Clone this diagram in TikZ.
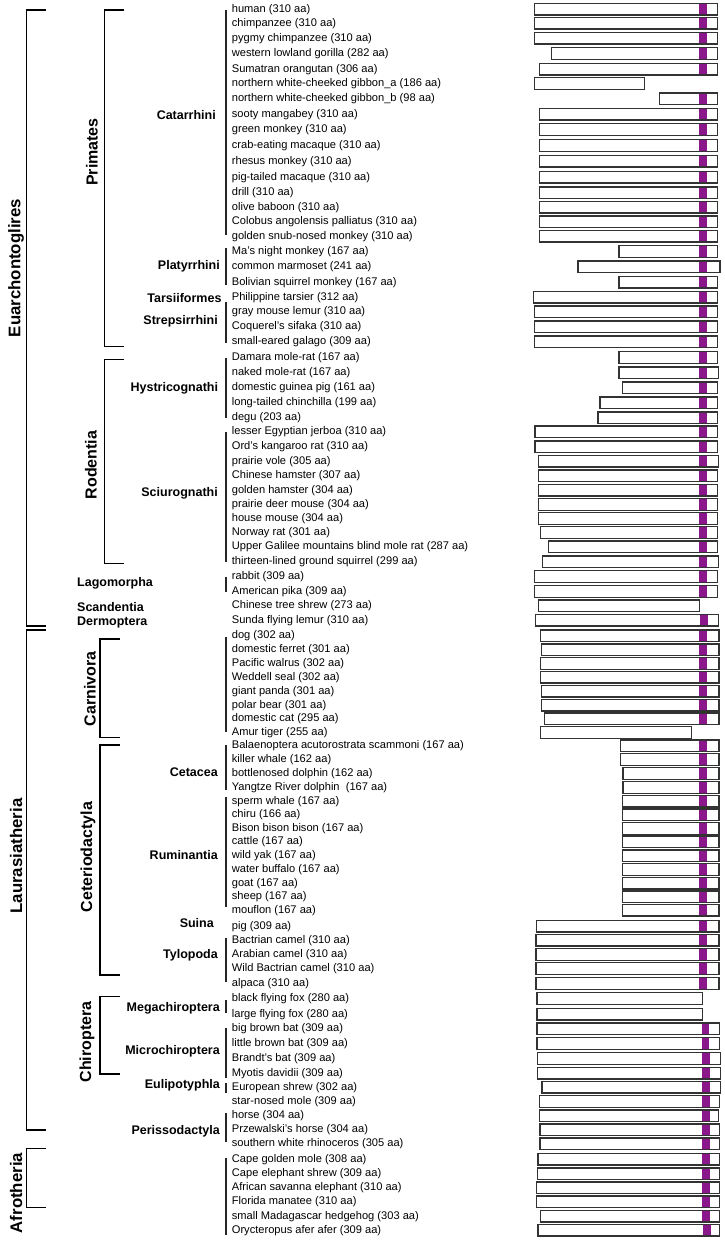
\documentclass[tikz,border=0pt]{standalone}
\usepackage{fontspec}
\setmainfont{Liberation Sans}
\usepackage{xcolor}
\definecolor{motif}{RGB}{138,24,138}
\tikzset{
  sp/.style={anchor=west, inner sep=0pt, font=\fontsize{11.1}{13}\selectfont},
  barbox/.style={draw=black!80, line width=1.1pt},
  grp/.style={draw=black!85, line width=1.2pt},
  bracket/.style={draw=black, line width=1.4pt},
  order/.style={inner sep=0pt, font=\bfseries\fontsize{12.5}{14}\selectfont},
  suborder/.style={inner sep=0pt, rotate=90, font=\bfseries\fontsize{16}{18}\selectfont},
  superorder/.style={inner sep=0pt, rotate=90, font=\bfseries\fontsize{16.8}{18}\selectfont}
}
\begin{document}
\begin{tikzpicture}[x=1pt,y=-1pt]
  \useasboundingbox (0,0) rectangle (724,1240);
  \fill[white] (0,0) rectangle (724,1240);
  % species rows: top of bar / left / right / motif / label
  \foreach \t/\l/\r/\p/\txt [count=\i] in {
    3.3/534.3/717.7/699/human (310 aa),
    17.3/534.3/717.7/699/chimpanzee (310 aa),
    32.3/534.3/717.7/699/pygmy chimpanzee (310 aa),
    47.7/551.7/717.7/699/western lowland gorilla (282 aa),
    63.3/539.3/717.7/699/Sumatran orangutan (306 aa),
    77.7/534.3/644.7/0/northern white-cheeked gibbon\_a (186 aa),
    93/659.7/717.7/699/northern white-cheeked gibbon\_b (98 aa),
    108.3/539.3/717.7/699/sooty mangabey (310 aa),
    123.7/539.3/717.7/699/green monkey (310 aa),
    139.7/539.3/717.7/699/crab-eating macaque (310 aa),
    155.3/539.3/717.7/699/rhesus monkey (310 aa),
    171.3/539.3/717.7/699/pig-tailed macaque (310 aa),
    187/539.3/717.7/699/drill (310 aa),
    201.3/539.3/717.7/699/olive baboon (310 aa),
    216/539.3/717.7/699/Colobus angolensis palliatus (310 aa),
    230.3/539.3/717.7/699/golden snub-nosed monkey (310 aa),
    245.7/619/717.7/699/Ma’s night monkey (167 aa),
    261/578/720/699/common marmoset (241 aa),
    276.3/619/717.7/699/Bolivian squirrel monkey (167 aa),
    291.3/533.3/717.7/699/Philippine tarsier (312 aa),
    306/534.3/717.7/699/gray mouse lemur (310 aa),
    321/534.3/717.7/699/Coquerel’s sifaka (310 aa),
    336/534.3/717.7/699/small-eared galago (309 aa),
    351.7/619/717.7/699/Damara mole-rat (167 aa),
    367/619/718.3/699/naked mole-rat (167 aa),
    382/622.7/717.7/699/domestic guinea pig (161 aa),
    397/600/717.7/699/long-tailed chinchilla (199 aa),
    412/598/717.7/699/degu (203 aa),
    426/535/717.7/699/lesser Egyptian jerboa (310 aa),
    441/535/717.7/699/Ord’s kangaroo rat (310 aa),
    455.3/538.3/718.3/699/prairie vole (305 aa),
    470/538.3/717.7/699/Chinese hamster (307 aa),
    484.3/538.7/717.7/699/golden hamster (304 aa),
    498.7/538.3/717.7/699/prairie deer mouse (304 aa),
    512.7/538.3/717.7/699/house mouse (304 aa),
    526.7/540.3/717.7/699/Norway rat (301 aa),
    541/548.7/717.7/699/Upper Galilee mountains blind mole rat (287 aa),
    556/542.3/718.3/699/thirteen-lined ground squirrel (299 aa),
    570.7/534.3/717.7/699/rabbit (309 aa),
    585.7/534.3/717.7/699/American pika (309 aa),
    600/538.3/699.3/0/Chinese tree shrew (273 aa),
    614.3/535.3/718.7/700/Sunda flying lemur (310 aa),
    630/540.7/719/699/dog (302 aa),
    644/541.3/719/699/domestic ferret (301 aa),
    657.7/540.7/719/699/Pacific walrus (302 aa),
    671.3/540.7/719/699/Weddell seal (302 aa),
    685.3/541.3/719/699/giant panda (301 aa),
    699.3/541.3/719/699/polar bear (301 aa),
    713/544.7/719/699/domestic cat (295 aa),
    726.7/540.7/691.3/0/Amur tiger (255 aa),
    740/620.3/719/699/Balaenoptera acutorostrata scammoni (167 aa),
    753.7/620.3/719/699/killer whale (162 aa),
    767.7/623/719/699/bottlenosed dolphin (162 aa),
    781.7/623/719/699/Yangtze River dolphin\ \ (167 aa),
    795.3/622.7/719/699/sperm whale (167 aa),
    809/622.7/719/699/chiru (166 aa),
    822.7/622.7/719/699/Bison bison bison (167 aa),
    836/622.7/719/699/cattle (167 aa),
    850/622.7/719/699/wild yak (167 aa),
    863.7/622.7/719/699/water buffalo (167 aa),
    877.3/622.7/719/699/goat (167 aa),
    891/622.7/719/699/sheep (167 aa),
    904.3/622.7/719/699/mouflon (167 aa),
    920.3/536.7/719/699/pig (309 aa),
    934.3/536/719/699/Bactrian camel (310 aa),
    948.7/536/719/699/Arabian camel (310 aa),
    962.7/536/719/699/Wild Bactrian camel (310 aa),
    977.7/536/719/699/alpaca (310 aa),
    992.7/537/702.3/0/black flying fox (280 aa),
    1008.3/537/702.3/0/large flying fox (280 aa),
    1023/537/719.7/701.7/big brown bat (309 aa),
    1037.7/537/719.7/701.7/little brown bat (309 aa),
    1052.7/537.7/720.3/702.3/Brandt’s bat (309 aa),
    1067.3/537.7/720.3/702.3/Myotis davidii (309 aa),
    1081.3/542/720.3/702.3/European shrew (302 aa),
    1095.7/539.3/719.3/702.3/star-nosed mole (309 aa),
    1110/539.3/718.7/702.3/horse (304 aa),
    1124/540/719.3/702.3/Przewalski’s horse (304 aa),
    1138/540/719.3/702.3/southern white rhinoceros (305 aa),
    1153.3/538/719.3/702.3/Cape golden mole (308 aa),
    1168/537.3/719.3/702.3/Cape elephant shrew (309 aa),
    1182/536.7/719.3/702.3/African savanna elephant (310 aa),
    1196/536.7/719.3/702.3/Florida manatee (310 aa),
    1210.3/540.7/719.3/702.3/small Madagascar hedgehog (303 aa),
    1224.3/538/719.7/703/Orycteropus afer afer (309 aa)
  }{
    \ifdim\p pt>0pt \fill[motif] (\p,\t) rectangle ++(7.7,11.7); \fi
    \draw[barbox] (\l,\t) rectangle (\r,\t+11.7);
    \node[sp] (sp\i) at (231.7,\t+5.85) {\txt};
  }

  % groups next to the species
  \draw[grp] (226,10) -- (226,235);
  \draw[grp] (226,248) -- (226,285);
  \draw[grp] (226,301.7) -- (226,343);
  \draw[grp] (226,358) -- (226,418);
  \draw[grp] (226,431.7) -- (226,561.7);
  \draw[grp] (226,576.7) -- (226,591.7);
  \draw[grp] (226,636.7) -- (226,731.7);
  \draw[grp] (226,745) -- (226,790);
  \draw[grp] (226,796.7) -- (226,906.7);
  \draw[grp] (226,938) -- (226,981.7);
  \draw[grp] (226,1000) -- (226,1013.3);
  \draw[grp] (226,1028) -- (226,1078);
  \draw[grp] (226,1083) -- (226,1093);
  \draw[grp] (226,1113) -- (226,1141.7);
  \draw[grp] (226,1158) -- (226,1235);

  \node[order, anchor=east] (catarrhini) at (216,115) {Catarrhini};
  \node[order, anchor=east] (platyrrhini) at (220,266.7) {Platyrrhini};
  \node[order, anchor=east] (tarsiiformes) at (221.7,297.7) {Tarsiiformes};
  \node[order, anchor=east] (strepsirrhini) at (218,321.7) {Strepsirrhini};
  \node[order, anchor=east] (hystricognathi) at (218.3,388) {Hystricognathi};
  \node[order, anchor=east] (sciurognathi) at (218,493) {Sciurognathi};
  \node[order, anchor=west] (lagomorpha) at (77,583) {Lagomorpha};
  \node[order, anchor=west] (scandentia) at (77,606.7) {Scandentia};
  \node[order, anchor=west] (dermoptera) at (77,622.3) {Dermoptera};
  \node[order, anchor=east] (cetacea) at (218,771.7) {Cetacea};
  \node[order, anchor=east] (ruminantia) at (218,855) {Ruminantia};
  \node[order, anchor=east] (suina) at (214,923.3) {Suina};
  \node[order, anchor=east] (tylopoda) at (218,955) {Tylopoda};
  \node[order, anchor=east] (megachiroptera) at (220,1008) {Megachiroptera};
  \node[order, anchor=east] (microchiroptera) at (220,1051.7) {Microchiroptera};
  \node[order, anchor=east] (eulipotyphla) at (220,1085) {Eulipotyphla};
  \node[order, anchor=east] (perissodactyla) at (220,1131.7) {Perissodactyla};

  % second level
  \draw[bracket] (124.3,10) -- (104.3,10) -- (104.3,346.7) -- (124.3,346.7);
  \draw[bracket] (124.3,359.3) -- (104.3,359.3) -- (104.3,563.3) -- (124.3,563.3);
  \draw[bracket] (120,639) -- (100,639) -- (100,737.7) -- (120,737.7);
  \draw[bracket] (120,745) -- (100,745) -- (100,975) -- (120,975);
  \draw[bracket] (120,996.7) -- (100,996.7) -- (100,1074) -- (120,1074);
  \node[suborder] (primates) at (92,152) {Primates};
  \node[suborder] (rodentia) at (91,465) {Rodentia};
  \node[suborder] (carnivora) at (90,689) {Carnivora};
  \node[suborder] (ceteriodactyla) at (88,857) {Ceteriodactyla};
  \node[suborder] (chiroptera) at (87,1042) {Chiroptera};

  % first level
  \draw[bracket] (46,10) -- (26.7,10) -- (26.7,626) -- (46,626);
  \draw[bracket] (46,630) -- (26.7,630) -- (26.7,1130) -- (46,1130);
  \draw[bracket] (46,1148.3) -- (26.7,1148.3) -- (26.7,1207.3) -- (46,1207.3);
  \node[superorder] (euarchontoglires) at (16,268) {Euarchontoglires};
  \node[superorder] (laurasiatheria) at (16,856) {Laurasiatheria};
  \node[superorder] (afrotheria) at (16,1193) {Afrotheria};
\end{tikzpicture}
\end{document}
